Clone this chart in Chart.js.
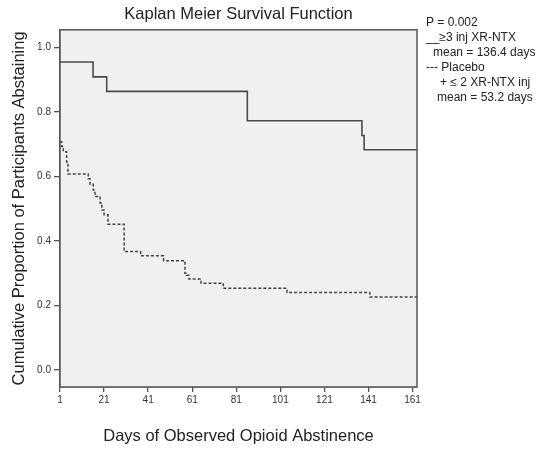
<!DOCTYPE html>
<html>
<head>
<meta charset="utf-8">
<script src="https://cdn.jsdelivr.net/npm/chart.js@4/dist/chart.umd.min.js"></script>
<style>
  html, body { margin: 0; padding: 0; background: #ffffff; }
  #wrap { width: 549px; height: 449px; }
</style>
</head>
<body>
<div id="wrap"><canvas id="c" width="549" height="449"></canvas></div>
<script>
// ---- data ----
const solidDays   = [1, 16, 22.2, 86, 138, 139, 163];
const solidValues = [0.955, 0.909, 0.864, 0.773, 0.727, 0.683, 0.683];

const dashedDays   = [1, 1.8, 2.5, 4, 4.6, 13.8, 14.6, 16.1, 16.9, 19.2, 20, 21, 22.8, 30.1, 37.6, 48, 57.7, 58.5, 59.5, 65, 75.1, 104, 141.6, 163];
const dashedValues = [0.708, 0.693, 0.677, 0.645, 0.608, 0.593, 0.576, 0.558, 0.538, 0.518, 0.496, 0.481, 0.452, 0.367, 0.354, 0.339, 0.300, 0.294, 0.282, 0.269, 0.253, 0.240, 0.226, 0.226];

const xTicks = [1, 21, 41, 61, 81, 101, 121, 141, 161];
const yTicks = [0.0, 0.2, 0.4, 0.6, 0.8, 1.0];

const titleText  = 'Kaplan Meier Survival Function';
const xTitleText = 'Days of Observed Opioid Abstinence';
const yTitleText = 'Cumulative Proportion of Participants Abstaining';
const noteLines  = [
  { text: 'P = 0.002',            dx: 0 },
  { text: '__\u22653 inj XR-NTX', dx: 0 },
  { text: 'mean = 136.4 days',    dx: 7 },
  { text: '--- Placebo',          dx: 0 },
  { text: '+ \u2264 2 XR-NTX inj', dx: 14 },
  { text: 'mean = 53.2 days',     dx: 11 }
];

const toPts = (xs, ys) => xs.map((x, i) => ({ x: x, y: ys[i] }));

const FONT = "'Liberation Sans', Arial, sans-serif";
const NARROW = "'Liberation Sans Narrow', 'Liberation Sans', Arial, sans-serif";
const AXIS_COL = '#555555';

const plotFrame = {
  id: 'plotFrame',
  beforeDatasetsDraw(chart) {
    const { ctx, chartArea: a } = chart;
    ctx.save();
    ctx.fillStyle = '#f0f0f0';
    ctx.fillRect(a.left, a.top, a.right - a.left, a.bottom - a.top);
    ctx.restore();
  },
  afterDatasetsDraw(chart) {
    const { ctx, chartArea: a } = chart;
    ctx.save();
    ctx.strokeStyle = AXIS_COL;
    ctx.lineWidth = 1.5;
    ctx.strokeRect(a.left, a.top, a.right - a.left, a.bottom - a.top);
    ctx.restore();
  },
  afterDraw(chart) {
    const { ctx, chartArea: a } = chart;
    ctx.save();
    ctx.fillStyle = '#222222';
    ctx.font = '12px ' + FONT;
    ctx.textBaseline = 'middle';
    ctx.textAlign = 'left';
    const x0 = a.right + 9;
    noteLines.forEach((l, i) => {
      ctx.fillText(l.text, x0 + l.dx, 23 + i * 15);
    });
    ctx.restore();
  }
};

new Chart(document.getElementById('c'), {
  type: 'line',
  data: {
    datasets: [
      {
        label: '\u22653 inj XR-NTX',
        data: toPts(solidDays, solidValues),
        stepped: 'before',
        borderColor: '#4a4a4a',
        borderWidth: 1.6,
        pointRadius: 0,
        fill: false
      },
      {
        label: 'Placebo + \u2264 2 XR-NTX inj',
        data: toPts(dashedDays, dashedValues),
        stepped: 'before',
        borderColor: '#444444',
        borderWidth: 1.5,
        borderDash: [3, 2],
        pointRadius: 0,
        fill: false
      }
    ]
  },
  options: {
    responsive: false,
    animation: false,
    devicePixelRatio: 1,
    layout: { padding: { left: 0, right: 132, top: 0, bottom: 0 } },
    plugins: {
      legend: { display: false },
      tooltip: { enabled: false },
      title: {
        display: true,
        text: titleText,
        fullSize: false,
        color: '#222222',
        font: { family: FONT, size: 16.5, weight: 'normal', lineHeight: 1.2 },
        padding: { top: 5, bottom: 5 }
      }
    },
    scales: {
      x: {
        type: 'linear',
        min: 1,
        max: 163,
        afterBuildTicks: s => { s.ticks = xTicks.map(v => ({ value: v })); },
        afterFit: s => { s.height = 62; },
        ticks: {
          color: '#333333',
          font: { family: NARROW, size: 10 },
          padding: 2,
          maxRotation: 0,
          autoSkip: false,
          callback: v => String(v)
        },
        grid: { display: true, drawOnChartArea: false, drawTicks: true, tickLength: 5, color: AXIS_COL, lineWidth: 1.3 },
        border: { display: true, color: AXIS_COL, width: 1.5 },
        title: {
          display: true,
          text: xTitleText,
          color: '#222222',
          font: { family: FONT, size: 16.5, lineHeight: 1.2 },
          padding: { top: 0, bottom: 3 }
        }
      },
      y: {
        type: 'linear',
        min: -0.053,
        max: 1.055,
        afterBuildTicks: s => { s.ticks = yTicks.map(v => ({ value: v })); },
        afterFit: s => { s.width = 60; },
        ticks: {
          color: '#333333',
          font: { family: NARROW, size: 10 },
          padding: 3,
          autoSkip: false,
          callback: v => Number(v).toFixed(1)
        },
        grid: { display: true, drawOnChartArea: false, drawTicks: true, tickLength: 6, color: AXIS_COL, lineWidth: 1.3 },
        border: { display: true, color: AXIS_COL, width: 1.5 },
        title: {
          display: true,
          text: yTitleText,
          color: '#222222',
          font: { family: FONT, size: 16.5, lineHeight: 1.2 },
          padding: { top: 10, bottom: 0 }
        }
      }
    }
  },
  plugins: [plotFrame]
});
</script>
</body>
</html>
